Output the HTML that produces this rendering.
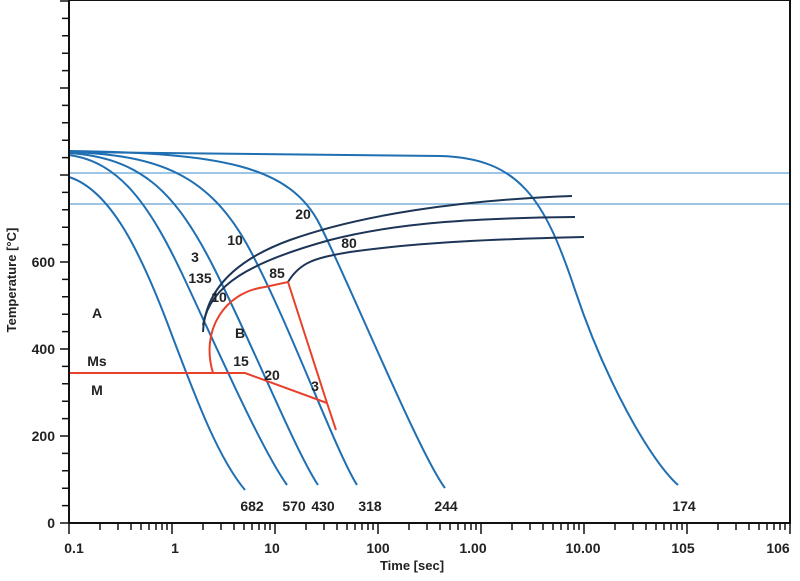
<!DOCTYPE html>
<html><head><style>
html,body{margin:0;padding:0;background:#fff;}
svg text{font-family:"Liberation Sans",sans-serif;font-weight:bold;fill:#222;}
</style></head><body>
<svg width="800" height="576" xmlns="http://www.w3.org/2000/svg">
<rect x="0" y="0" width="800" height="576" fill="#fff"/>
<!-- ref lines -->
<line x1="69" y1="173" x2="790" y2="173" stroke="#7fb3dc" stroke-width="1.5"/>
<line x1="69" y1="204" x2="790" y2="204" stroke="#7fb3dc" stroke-width="1.5"/>
<g fill="none" stroke="#1f6fb2" stroke-width="2">
<path d="M69,177 C110,190 140,250 170,330 S220,460 245,490"/>
<path d="M69,155 C120,162 150,205 185,280 S262,450 287,485"/>
<path d="M69,153 C140,158 175,190 215,270 S295,450 318,485"/>
<path d="M69,152 C160,155 210,175 250,250 S335,450 357,485"/>
<path d="M69,151 C220,153 290,165 320,225 S420,455 445,488"/>
<path d="M69,152 L440,156 C520,158 545,200 575,290 S650,460 678,485"/>
</g>
<g fill="none" stroke="#1d3557" stroke-width="2">
<path d="M203,332 C205,290 235,260 290,240 C360,215 460,200 572,196"/>
<path d="M203,325 C210,285 250,262 330,240 C400,222 480,218 575,217"/>
<path d="M288,282 C300,262 315,258 350,252 C420,242 500,239 584,237"/>
</g>
<g fill="none" stroke="#e8412b" stroke-width="2">
<path d="M213,373 C200,330 225,292 265,287 L288,282 L327,403 L336,430"/>
<path d="M69,373 L245,373 L327,403"/>
</g>
<!-- axes -->
<g stroke="#111" stroke-width="2" fill="none">
<rect x="69" y="0" width="721" height="523"/>
</g>
<g stroke="#111" stroke-width="1.5" id="yt"></g>
<g stroke="#111" stroke-width="1.5">
<!-- y ticks every 17.4px -->
<path d="M60,523H69M62,505.6H69M62,488.2H69M62,470.8H69M62,453.4H69M60,436H69M62,418.6H69M62,401.2H69M62,383.8H69M62,366.4H69M60,349H69M62,331.6H69M62,314.2H69M62,296.8H69M62,279.4H69M60,262H69M62,244.6H69M62,227.2H69M62,209.8H69M62,192.4H69M60,175H69M62,157.6H69M62,140.2H69M62,122.8H69M62,105.4H69M60,88H69M62,70.6H69M62,53.2H69M62,35.8H69M62,18.4H69M60,1H69"/>
<path d="M69,523V534M100,523V530M118,523V530M131,523V530M141,523V530M149,523V530M156,523V530M162,523V530M167,523V530M172,523V534M203,523V530M221,523V530M234,523V530M244,523V530M252,523V530M259,523V530M265,523V530M270,523V530M275,523V534M306,523V530M324,523V530M337,523V530M347,523V530M355,523V530M362,523V530M368,523V530M373,523V530M378,523V534M409,523V530M427,523V530M440,523V530M450,523V530M458,523V530M465,523V530M471,523V530M476,523V530M481,523V534M512,523V530M530,523V530M543,523V530M553,523V530M561,523V530M568,523V530M574,523V530M579,523V530M584,523V534M615,523V530M633,523V530M646,523V530M656,523V530M664,523V530M671,523V530M677,523V530M682,523V530M687,523V534M718,523V530M736,523V530M749,523V530M759,523V530M767,523V530M774,523V530M780,523V530M785,523V530M790,523V534"/>
</g>
<g font-size="14" text-anchor="end">
<text x="55" y="528">0</text><text x="55" y="441">200</text><text x="55" y="354">400</text><text x="55" y="267">600</text>
</g>
<g font-size="14" text-anchor="middle">
<text x="74" y="553">0.1</text><text x="175" y="553">1</text><text x="272" y="553">10</text><text x="378" y="553">100</text><text x="473" y="553">1.00</text><text x="583" y="553">10.00</text><text x="683" y="553">105</text><text x="778" y="553">106</text>
<text x="412" y="570" font-size="13">Time [sec]</text>
<text transform="translate(16,280) rotate(-90)" font-size="13">Temperature  [°C]</text>
</g>
<g font-size="14" text-anchor="middle">
<text x="252" y="511">682</text><text x="294" y="511">570</text><text x="323" y="511">430</text><text x="370" y="511">318</text><text x="446" y="511">244</text><text x="684" y="511">174</text>
<text x="97" y="318">A</text><text x="97" y="366">Ms</text><text x="97" y="395">M</text>
<text x="195" y="262">3</text><text x="200" y="283">135</text><text x="219" y="302">10</text><text x="235" y="245">10</text><text x="303" y="219">20</text><text x="349" y="248">80</text><text x="277" y="278">85</text><text x="240" y="338">B</text><text x="241" y="366">15</text><text x="272" y="380">20</text><text x="315" y="391">3</text>
</g>
</svg>
</body></html>
